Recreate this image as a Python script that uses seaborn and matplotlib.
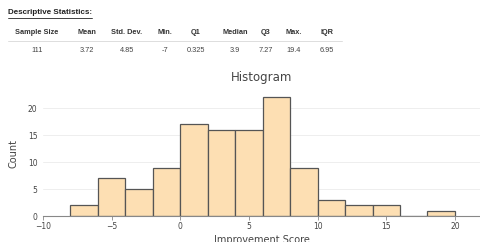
import numpy as np
import pandas as pd
import seaborn as sns
import matplotlib.pyplot as plt
from matplotlib.lines import Line2D

# histogram bins (width 2) and counts
bin_edges = [-8, -6, -4, -2, 0, 2, 4, 6, 8, 10, 12, 14, 16, 18, 20]
counts = [2, 7, 5, 9, 17, 16, 16, 22, 9, 3, 2, 2, 0, 1]

stat_names = ["Sample Size", "Mean", "Std. Dev.", "Min.", "Q1", "Median", "Q3", "Max.", "IQR"]
stat_values = ["111", "3.72", "4.85", "-7", "0.325", "3.9", "7.27", "19.4", "6.95"]
stat_x = [37, 87, 127, 165, 196, 235, 266, 294, 327]

df = pd.DataFrame({"score": [e + 1 for e in bin_edges[:-1]], "n": counts})

sns.set_style("white")
plt.rcParams['font.family'] = ['Liberation Sans', 'DejaVu Sans']

fig = plt.figure(figsize=(4.81, 2.42), dpi=100)
W, H = 481, 242

# descriptive statistics table
fig.text(8 / W, 1 - 13 / H, "Descriptive Statistics:", fontsize=5.8, fontweight="bold",
         va="center", ha="left", color="#222222")
fig.add_artist(Line2D([8 / W, 92 / W], [1 - 18 / H, 1 - 18 / H], color="#222222", lw=0.6))
for name, val, x in zip(stat_names, stat_values, stat_x):
    fig.text(x / W, 1 - 32 / H, name, fontsize=5.3, fontweight="bold", ha="center", va="center",
             color="#333333")
    fig.text(x / W, 1 - 50 / H, val, fontsize=5.3, ha="center", va="center", color="#444444")
fig.add_artist(Line2D([8 / W, 342 / W], [1 - 41 / H, 1 - 41 / H], color="#dddddd", lw=0.7))

# histogram
ax = fig.add_axes([43 / W, 1 - 216 / H, 1 - 43 / W, (216 - 91) / H])
sns.histplot(data=df, x="score", weights="n", bins=bin_edges, ax=ax,
             color="#fddfb3", edgecolor="#555555", linewidth=0.9, alpha=1)
ax.set_xlim(-10, 21.9)
ax.set_ylim(0, 23.2)
ax.set_xticks([-10, -5, 0, 5, 10, 15, 20])
ax.set_xticklabels(["\u221210", "\u22125", "0", "5", "10", "15", "20"])
ax.set_yticks([0, 5, 10, 15, 20])
ax.yaxis.grid(True, color="#eeeeee", lw=0.7)
ax.set_axisbelow(True)
for s in ["top", "right", "left"]:
    ax.spines[s].set_visible(False)
ax.spines["bottom"].set_color("#888888")
ax.spines["bottom"].set_linewidth(0.8)
ax.tick_params(axis="x", length=3, width=0.6, color="#888888", labelsize=5.5,
               labelcolor="#444444", pad=1, bottom=True)
ax.tick_params(axis="y", length=0, labelsize=5.5, labelcolor="#444444", pad=4)
ax.set_title("Histogram", fontsize=8.5, color="#444444", pad=7, family=["DejaVu Sans"])
ax.set_xlabel("Improvement Score", fontsize=7, color="#444444", labelpad=3, family=["DejaVu Sans"])
ax.set_ylabel("Count", fontsize=7, color="#444444", labelpad=7, family=["DejaVu Sans"])
for lab in ax.get_xticklabels() + ax.get_yticklabels():
    lab.set_family(["DejaVu Sans"])

fig.savefig("out.png", dpi=100)
